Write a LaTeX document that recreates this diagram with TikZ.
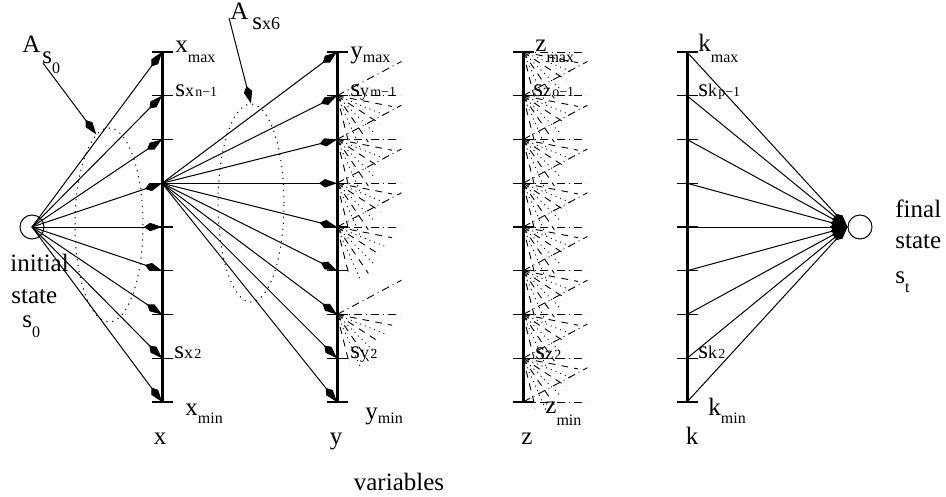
\documentclass[tikz,border=0pt]{standalone}
\usepackage{fontspec}
\setmainfont{Liberation Serif}
\usetikzlibrary{arrows.meta}
\usetikzlibrary{shapes.geometric}

\newcommand{\gross}{\fontsize{12.5}{14}\selectfont}
\newcommand{\mittel}{\fontsize{9}{10}\selectfont}
\newcommand{\klein}{\fontsize{8}{9}\selectfont}
\newcommand{\winzig}{\fontsize{7}{8}\selectfont}

\begin{document}
\begin{tikzpicture}[x=0.5pt, y=-0.5pt, font=\gross,
	lab/.style={anchor=base west, inner sep=0pt},
	achse/.style={line width=1.5pt},
	strich/.style={line width=0.7pt},
	pfeil/.style={line width=0.5pt, -{Kite[length=9pt, width=4.2pt, inset=3pt]}},
	sp/.style={line width=0.45pt, dash pattern=on 4pt off 2pt on 0.5pt off 2pt},
	gs/.style={line width=0.45pt, dash pattern=on 3.5pt off 3pt},
	gp/.style={line width=0.45pt, dash pattern=on 0.5pt off 2pt},
	huelle/.style={ellipse, draw, line width=0.5pt, dash pattern=on 0.6pt off 2.4pt, inner sep=0pt}]
\useasboundingbox (0,0) rectangle (946,497);

% Werte auf den Achsen
\foreach \i in {0,...,8} {
	\coordinate (x\i) at (162,52+43.75*\i);
	\coordinate (y\i) at (337,52+43.75*\i);
	\coordinate (z\i) at (523,52+43.75*\i);
	\coordinate (k\i) at (687,52+43.75*\i);
}

% Achsen und Striche
\foreach \a in {x,y,z,k} {
	\draw[achse] (\a0) -- (\a8);
	\foreach \i in {0,...,8}
		\draw[strich] (\a\i) ++(-10,0) -- ++(21,0);
}

% Anfangszustand
\node[circle, draw, line width=0.5pt, minimum size=12pt, inner sep=0pt] (s0) at (32,227) {};
\foreach \i in {0,...,8}
	\draw[pfeil] (s0.center) -- (x\i);

% von sx6 nach y
\foreach \i in {0,...,8}
	\draw[pfeil] (x3) -- (y\i);

% Faecher bei y
\foreach \n in {y1,y2,y3,y4,y6}
	\foreach \w/\l/\s in {-28/73/sp, 0/63/sp, 11/56/gs, 22/52/gp, 33/52/gs, 45/54/gp, 56/56/gs, 66/56/gp, 76/52/gs}
		\draw[\s] (\n) -- ++(\w:\l);

% Faecher bei z
\foreach \i in {0,...,8}
	\draw[sp] (z\i) -- ++(0:63);
\foreach \i in {1,...,8}
	\draw[sp] (z\i) -- ++(-28:73);
\foreach \i in {0,...,7}
	\foreach \w/\l/\s in {11/56/gs, 22/52/gp, 33/52/gs, 45/54/gp, 56/56/gs, 66/56/gp, 76/52/gs}
		\draw[\s] (z\i) -- ++(\w:\l);

% Endzustand
\node[circle, draw, line width=0.5pt, minimum size=12pt, inner sep=0pt] (st) at (860,227) {};
\foreach \i in {0,...,8}
	\draw[pfeil] (k\i) -- (st.west);

% Huellen mit Zeigern
\node[huelle, minimum width=34pt, minimum height=97pt] (h0) at (109,225) {};
\node[huelle, minimum width=33pt, minimum height=99pt] (h6) at (251,203) {};
\node[lab] (As0) at (22,53) {A\kern1pt\raisebox{-5.5pt}{s\raisebox{-5pt}{\klein 0}}};
\node[lab] (Asx6) at (230,20) {A\kern2pt\raisebox{-5pt}{s{\mittel x6}}};
\coordinate (a0) at (43,63);
\coordinate (a6) at (229,18);
\draw[pfeil] (a0) -- (h0.98);
\draw[pfeil] (a6) -- (h6.north);

% Beschriftung x
\node[lab] (xmax) at (175,53) {x\raisebox{-5pt}{\klein max}};
\node[lab] (sxn) at (175,97) {s{\mittel x}\kern0.6pt{\winzig n−1}};
\node[lab] (sx2) at (174,358) {s{\mittel x}\kern0.6pt{\winzig 2}};
\node[lab] (xmin) at (185,415) {x\raisebox{-4pt}{\klein min}};

% Beschriftung y
\node[lab] (ymax) at (350,59) {y\raisebox{-2pt}{\klein max}};
\node[lab] (syn) at (350,97) {s{\mittel y}\kern0.6pt{\winzig m−1}};
\node[lab] (sy2) at (350,358) {s{\mittel y}\kern0.6pt{\winzig 2}};
\node[lab] (ymin) at (365,419) {y\raisebox{-2pt}{\klein min}};

% Beschriftung z
\node[lab] (zmax) at (535,52) {z\raisebox{-5.5pt}{\klein max}};
\node[lab] (szn) at (533,97) {s{\mittel z}\kern0.6pt{\winzig o−1}};
\node[lab] (sz2) at (535,359) {s{\mittel z}\kern0.6pt{\winzig 2}};
\node[lab] (zmin) at (545,413) {z\raisebox{-6pt}{\klein min}};

% Beschriftung k
\node[lab] (kmax) at (698,52) {k\raisebox{-5.5pt}{\klein max}};
\node[lab] (skn) at (698,97) {s{\mittel k}\kern0.6pt{\winzig p−1}};
\node[lab] (sk2) at (698,358) {s{\mittel k}\kern0.6pt{\winzig 2}};
\node[lab] (kmin) at (708,415) {k\raisebox{-4pt}{\klein min}};

% Zustaende
\node[lab] (init) at (10,271) {initial};
\node[lab] (state0) at (11,303) {state};
\node[lab] (s0lab) at (22,327) {s\raisebox{-5pt}{\klein 0}};
\node[lab] (fin) at (895,217) {final};
\node[lab] (statet) at (895,248) {state};
\node[lab] (stlab) at (895,283) {s\raisebox{-4.5pt}{\klein t}};

% Variablen
\node[anchor=base, inner sep=0pt] (vx) at (160,444) {x};
\node[anchor=base, inner sep=0pt] (vy) at (336,444) {y};
\node[anchor=base, inner sep=0pt] (vz) at (527,444) {z};
\node[anchor=base, inner sep=0pt] (vk) at (692,444) {k};
\node[anchor=base, inner sep=0pt] (var) at (399,490) {variables};
\end{tikzpicture}
\end{document}
